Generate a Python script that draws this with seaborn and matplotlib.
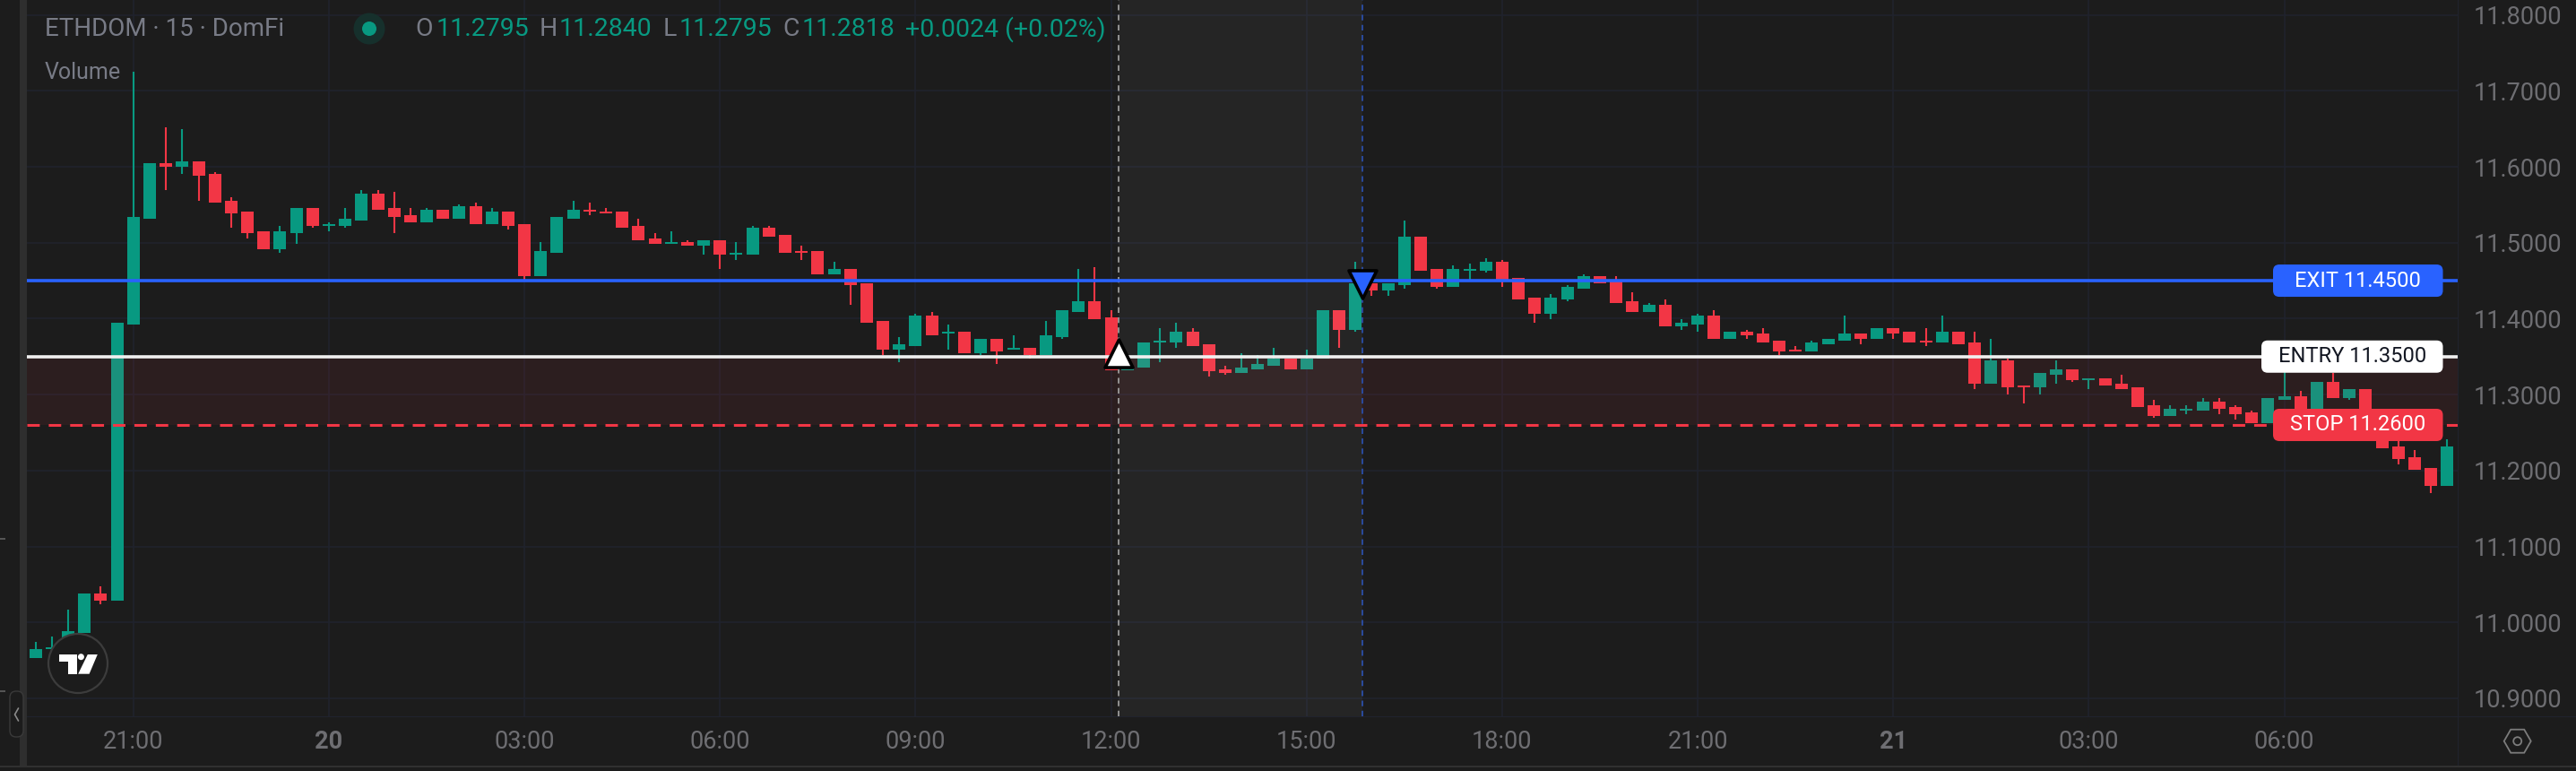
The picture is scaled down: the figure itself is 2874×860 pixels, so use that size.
# ETHDOM 15m candles with entry / exit / stop levels

import numpy as np
import pandas as pd
import seaborn as sns
import matplotlib.pyplot as plt
from matplotlib.patches import Circle, FancyBboxPatch, Polygon, Rectangle, RegularPolygon

## price data, one row per 15 min candle, bar index 0 is the 21:00 candle
first_bar = -6
opens = [10.9534, 10.9648, 10.9793, 10.9860, 11.0380, 11.0285, 11.3922, 11.5315, 11.6047, 11.6000, 11.6070, 11.5905, 11.5551, 11.5409, 11.5150, 11.4913, 11.5126, 11.5457, 11.5220, 11.5220, 11.5291, 11.5645, 11.5457, 11.5362, 11.5268, 11.5433, 11.5315, 11.5480, 11.5244, 11.5409, 11.5244, 11.4559, 11.4866, 11.5315, 11.5433, 11.5409, 11.5409, 11.5220,
         11.5056, 11.4985, 11.5009, 11.4961, 11.5032, 11.4843, 11.4843, 11.5197, 11.5103, 11.4891, 11.4891, 11.4584, 11.4654, 11.4465, 11.3970, 11.3592, 11.3639, 11.4040, 11.3804, 11.3828, 11.3545, 11.3733, 11.3592, 11.3615, 11.3521, 11.3757, 11.4088, 11.4229, 11.4017, 11.3316, 11.3356, 11.3686, 11.3686, 11.3828, 11.3663, 11.3332, 11.3285, 11.3332, 11.3379, 11.3474,
         11.3332, 11.3474, 11.4111, 11.3852, 11.4465, 11.4371, 11.4442, 11.5079, 11.4654, 11.4418, 11.4631, 11.4631, 11.4749, 11.4536, 11.4277, 11.4064, 11.4253, 11.4395, 11.4560, 11.4489, 11.4229, 11.4088, 11.4182, 11.3899, 11.3922, 11.4040, 11.3733, 11.3828, 11.3804, 11.3710, 11.3592, 11.3568, 11.3663, 11.3710, 11.3804, 11.3733, 11.3875, 11.3828, 11.3710,
         11.3686, 11.3827, 11.3686, 11.3143, 11.3449, 11.3119, 11.3095, 11.3261, 11.3331, 11.3190, 11.3213, 11.3142, 11.3095, 11.2859, 11.2717, 11.2788, 11.2788, 11.2906, 11.2836, 11.2765, 11.2623, 11.2930, 11.2977, 11.2650, 11.3166, 11.2954, 11.3072, 11.2680, 11.2316, 11.2174, 11.2033, 11.1796]
highs = [10.9742, 10.9813, 11.0167, 11.0380, 11.0474, 11.3945, 11.7251, 11.6047, 11.6519, 11.6495, 11.6070, 11.5929, 11.5598, 11.5409, 11.5150, 11.5220, 11.5457, 11.5457, 11.5268, 11.5457, 11.5693, 11.5693, 11.5669, 11.5457, 11.5457, 11.5433, 11.5504, 11.5527, 11.5457, 11.5409, 11.5244, 11.5008, 11.5338, 11.5551, 11.5527, 11.5457, 11.5409, 11.5315,
         11.5127, 11.5150, 11.5032, 11.5032, 11.5032, 11.5009, 11.5221, 11.5221, 11.5103, 11.4961, 11.4891, 11.4749, 11.4654, 11.4465, 11.3970, 11.3757, 11.4064, 11.4088, 11.3922, 11.3828, 11.3733, 11.3733, 11.3781, 11.3615, 11.3970, 11.4111, 11.4654, 11.4678, 11.4111, 11.3316, 11.3686, 11.3875, 11.3946, 11.3875, 11.3663, 11.3379, 11.3545, 11.3521, 11.3615, 11.3474,
         11.3592, 11.4111, 11.4111, 11.4749, 11.4465, 11.4465, 11.5292, 11.5079, 11.4654, 11.4702, 11.4725, 11.4796, 11.4772, 11.4536, 11.4277, 11.4324, 11.4442, 11.4584, 11.4560, 11.4560, 11.4347, 11.4206, 11.4253, 11.3993, 11.4064, 11.4111, 11.3828, 11.3852, 11.3875, 11.3710, 11.3639, 11.3710, 11.3733, 11.4040, 11.3804, 11.3875, 11.3875, 11.3828, 11.3875,
         11.4040, 11.3827, 11.3827, 11.3733, 11.3473, 11.3119, 11.3284, 11.3449, 11.3331, 11.3213, 11.3213, 11.3261, 11.3095, 11.2930, 11.2859, 11.2859, 11.2954, 11.2954, 11.2859, 11.2788, 11.2954, 11.3350, 11.3048, 11.3166, 11.3284, 11.3072, 11.3072, 11.2680, 11.2387, 11.2269, 11.2033, 11.2410]
lows = [10.9534, 10.9600, 10.9750, 10.9860, 11.0238, 11.0285, 11.3922, 11.5315, 11.5693, 11.5905, 11.5551, 11.5527, 11.5197, 11.5055, 11.4913, 11.4866, 11.4984, 11.5197, 11.5150, 11.5197, 11.5291, 11.5433, 11.5126, 11.5268, 11.5268, 11.5315, 11.5315, 11.5244, 11.5244, 11.5173, 11.4512, 11.4559, 11.4866, 11.5315, 11.5362, 11.5386, 11.5197, 11.5031,
         11.4985, 11.4985, 11.4961, 11.4843, 11.4654, 11.4772, 11.4843, 11.5079, 11.4867, 11.4772, 11.4584, 11.4584, 11.4182, 11.3946, 11.3521, 11.3427, 11.3639, 11.3781, 11.3592, 11.3545, 11.3521, 11.3403, 11.3592, 11.3474, 11.3521, 11.3733, 11.4088, 11.3993, 11.3316, 11.3316, 11.3356, 11.3427, 11.3615, 11.3639, 11.3237, 11.3261, 11.3285, 11.3332, 11.3379, 11.3332,
         11.3332, 11.3474, 11.3615, 11.3828, 11.4300, 11.4300, 11.4395, 11.4631, 11.4395, 11.4418, 11.4513, 11.4607, 11.4418, 11.4253, 11.3946, 11.3993, 11.4229, 11.4395, 11.4465, 11.4206, 11.4088, 11.4088, 11.3899, 11.3852, 11.3828, 11.3733, 11.3733, 11.3733, 11.3686, 11.3521, 11.3568, 11.3568, 11.3663, 11.3710, 11.3663, 11.3733, 11.3733, 11.3686, 11.3639,
         11.3686, 11.3662, 11.3072, 11.3143, 11.3001, 11.2883, 11.3001, 11.3143, 11.3166, 11.3072, 11.3119, 11.3072, 11.2836, 11.2694, 11.2717, 11.2741, 11.2788, 11.2741, 11.2670, 11.2623, 11.2623, 11.2930, 11.2600, 11.2650, 11.2954, 11.2930, 11.2680, 11.2292, 11.2080, 11.2009, 11.1702, 11.1796]
closes = [10.9648, 10.9672, 10.9884, 11.0380, 11.0285, 11.3945, 11.5338, 11.6047, 11.6000, 11.6070, 11.5882, 11.5527, 11.5386, 11.5126, 11.4913, 11.5150, 11.5457, 11.5220, 11.5244, 11.5315, 11.5645, 11.5433, 11.5338, 11.5268, 11.5433, 11.5315, 11.5480, 11.5244, 11.5409, 11.5220, 11.4559, 11.4890, 11.5338, 11.5433, 11.5409, 11.5386, 11.5197, 11.5031,
          11.4985, 11.5009, 11.4961, 11.5032, 11.4843, 11.4867, 11.5197, 11.5079, 11.4867, 11.4867, 11.4584, 11.4654, 11.4442, 11.3946, 11.3592, 11.3663, 11.4040, 11.3781, 11.3828, 11.3545, 11.3733, 11.3568, 11.3615, 11.3521, 11.3781, 11.4111, 11.4229, 11.3993, 11.3316, 11.3340, 11.3686, 11.3710, 11.3828, 11.3639, 11.3308, 11.3285, 11.3356, 11.3403, 11.3474, 11.3332,
          11.3474, 11.4111, 11.3852, 11.4465, 11.4371, 11.4465, 11.5079, 11.4631, 11.4418, 11.4654, 11.4654, 11.4749, 11.4513, 11.4253, 11.4064, 11.4277, 11.4418, 11.4560, 11.4465, 11.4206, 11.4088, 11.4182, 11.3899, 11.3946, 11.4040, 11.3733, 11.3828, 11.3781, 11.3686, 11.3568, 11.3568, 11.3686, 11.3733, 11.3804, 11.3733, 11.3875, 11.3804, 11.3686, 11.3686,
          11.3827, 11.3662, 11.3143, 11.3449, 11.3095, 11.3095, 11.3284, 11.3331, 11.3190, 11.3213, 11.3119, 11.3072, 11.2836, 11.2717, 11.2812, 11.2812, 11.2906, 11.2812, 11.2741, 11.2623, 11.2954, 11.2977, 11.2650, 11.3166, 11.2954, 11.3072, 11.2680, 11.2292, 11.2151, 11.2009, 11.1796, 11.2316]

## levels and trade markers
exit_level = 11.45
entry_level = 11.35
stop_level = 11.26
y_ticks = [10.9, 11.0, 11.1, 11.2, 11.3, 11.4, 11.5, 11.6, 11.7, 11.8]
x_tick_bars = [0, 12, 24, 36, 48, 60, 72, 84, 96, 108, 120, 132]
x_tick_labels = ['21:00', '20', '03:00', '06:00', '09:00', '12:00', '15:00', '18:00', '21:00', '21', '03:00', '06:00']
entry_bar, entry_marker_price = 60.46, 11.3543
exit_bar, exit_marker_price = 75.42, 11.4456

BG = '#1c1c1c'
GREEN = '#089981'
RED = '#F23645'
BLUE = '#2962FF'
GRID = '#20232e'
MUTED = '#787b86'
TICKS = '#6e6e72'
FONT = 'Roboto'

sns.set_theme(style='dark', rc={'axes.facecolor': BG, 'figure.facecolor': BG, 'lines.scale_dashes': False})
plt.rcParams['font.family'] = [FONT, 'DejaVu Sans']

candles = pd.DataFrame({'open': opens, 'high': highs, 'low': lows, 'close': closes})
candles['bar'] = np.arange(len(candles)) + first_bar
candles['bottom'] = candles[['open', 'close']].min(axis=1)
candles['body'] = (candles['open'] - candles['close']).abs()
up = candles[candles['close'] >= candles['open']]
down = candles[candles['close'] < candles['open']]

fig = plt.figure(figsize=(28.74, 8.6), dpi=100)
# plot pane: x 30-2742 px, y 0-799 px
ax = fig.add_axes([30 / 2874, 61 / 860, 2712 / 2874, 799 / 860])

BAR_PX = 18.18
for part, colour in [(up, GREEN), (down, RED)]:
    ax.vlines(part['bar'], part['low'], part['high'], color=colour, lw=1.5, zorder=3)
    sns.barplot(data=part, x='bar', y='body', bottom=part['bottom'].values, native_scale=True,
                color=colour, saturation=1, width=14 / BAR_PX / part['bar'].diff().min(),
                errorbar=None, linewidth=0, ax=ax, zorder=3)

ax.set_xlabel('')
ax.set_ylabel('')

ax.grid(True, color=GRID, lw=1.1, zorder=0)
ax.set_axisbelow(True)
ax.yaxis.tick_right()
ax.set_yticks(y_ticks, [f'{v:.4f}' for v in y_ticks])
ax.set_xticks(x_tick_bars, x_tick_labels)
ax.tick_params(axis='both', length=0, colors=TICKS, labelsize=19.5)
ax.tick_params(axis='y', pad=13)
ax.tick_params(axis='x', pad=11)
for lab in ax.get_xticklabels():
    if lab.get_text() in ('20', '21'):
        lab.set_fontweight('bold')
for side in ax.spines:
    ax.spines[side].set_visible(False)

## risk zone and the trade window sit on top of the candles
ax.axhspan(stop_level, entry_level, color=RED, alpha=0.08, lw=0, zorder=4)
ax.axvspan(entry_bar, exit_bar, color='white', alpha=0.045, lw=0, zorder=4)

ax.axvline(entry_bar, color='#9c9c9c', lw=1.3, dashes=(4.5, 3.6), zorder=5)
ax.axvline(exit_bar, color='#2b4ea8', lw=1.3, dashes=(4.5, 3.6), zorder=5)
ax.axhline(exit_level, color=BLUE, lw=2.6, zorder=6)
ax.axhline(entry_level, color='#f0f0f0', lw=2.6, zorder=6)
ax.axhline(stop_level, color=RED, lw=2.2, dashes=(10, 7.2), zorder=6)

sns.scatterplot(x=[entry_bar], y=[entry_marker_price], marker='^', s=500, color='white',
                edgecolor='black', linewidth=2.6, ax=ax, zorder=7, legend=False)
sns.scatterplot(x=[exit_bar], y=[exit_marker_price], marker='v', s=500, color=BLUE,
                edgecolor='black', linewidth=2.6, ax=ax, zorder=7, legend=False)
ax.set_xlim(-6.535, 142.64)
ax.set_ylim(10.8763, 11.8196)

## overlay in pixel coordinates for the terminal chrome
px = fig.add_axes([0, 0, 1, 1], facecolor='none', zorder=10)
px.set_xlim(0, 2874)
px.set_ylim(860, 0)
px.axis('off')


def price_y(price):
    return 270.7 + (11.5 - price) * 847


# left strip and frame lines
px.add_patch(Rectangle((22, 0), 8, 855, color='#2e2e2e', lw=0))
px.add_patch(Rectangle((0, 853.5), 2874, 2, color='#303030', lw=0))
px.add_patch(Rectangle((30, 798.5), 2844, 1.5, color=GRID, lw=0))
px.add_patch(Rectangle((2741.5, 0), 1.5, 854, color=GRID, lw=0))
px.add_patch(Rectangle((0, 600), 6, 1.5, color='#555555', lw=0))
px.add_patch(Rectangle((0, 770), 6, 1.5, color='#555555', lw=0))
px.add_patch(FancyBboxPatch((11, 771), 15, 51, boxstyle='round,pad=0,rounding_size=7', fc=BG, ec='#3a3a3a', lw=1))
px.plot([20.5, 16.5, 20.5], [790, 797, 804], color='#8a8a8a', lw=1.2)

# header
px.text(50, 33, 'ETHDOM · 15 · DomFi', color=MUTED, fontsize=20, va='center')
px.add_patch(Circle((412, 32), 17.5, color='#16302c', lw=0))
px.add_patch(Circle((412, 32), 8, color=GREEN, lw=0))
px.text(50, 81, 'Volume', color=MUTED, fontsize=18, va='center')

header = [(463, 'O', MUTED), (487, '11.2795', GREEN), (602, 'H', MUTED), (624, '11.2840', GREEN),
          (740, 'L', MUTED), (758, '11.2795', GREEN), (873, 'C', MUTED), (895, '11.2818', GREEN),
          (1010, '+0.0024 (+0.02%)', GREEN)]
for hx, word, colour in header:
    px.text(hx, 33, word, color=colour, fontsize=20.5, va='center')

# order tags on the right
tags = [(exit_level, 'EXIT 11.4500', BLUE, 'white', 2536),
        (entry_level, 'ENTRY 11.3500', 'white', '#131722', 2523),
        (stop_level, 'STOP 11.2600', RED, 'white', 2536)]
for level, word, fill, ink, left in tags:
    yc = price_y(level)
    px.add_patch(FancyBboxPatch((left, yc - 18), 2725.5 - left, 36, boxstyle='round,pad=0,rounding_size=7',
                                fc=fill, ec='none', zorder=3))
    px.text((left + 2725.5) / 2, yc, word, color=ink, fontsize=17, ha='center', va='center', zorder=4)

# TradingView badge
px.add_patch(Circle((87, 740), 33, fc=BG, ec='#3c3c3c', lw=1.6, zorder=3))
px.add_patch(Polygon([(65.7, 730), (85.9, 730), (85.9, 751.7), (75.8, 751.7), (75.8, 738.3), (65.7, 738.3)],
                     color='white', lw=0, zorder=4))
px.add_patch(Circle((90.4, 732.7), 3.5, color='white', lw=0, zorder=4))
px.add_patch(Polygon([(97.8, 730), (108.8, 730), (99.6, 751.7), (87.2, 751.7)], color='white', lw=0, zorder=4))

# settings icon
px.add_patch(RegularPolygon((2808.7, 826.7), 6, radius=15, orientation=np.pi / 6, fc='none', ec='#7c7c7c', lw=1.3))
px.add_patch(Circle((2808.7, 826.7), 4.5, fc='none', ec='#7c7c7c', lw=1.3))

fig.savefig('out.png', dpi=100, facecolor=BG)
